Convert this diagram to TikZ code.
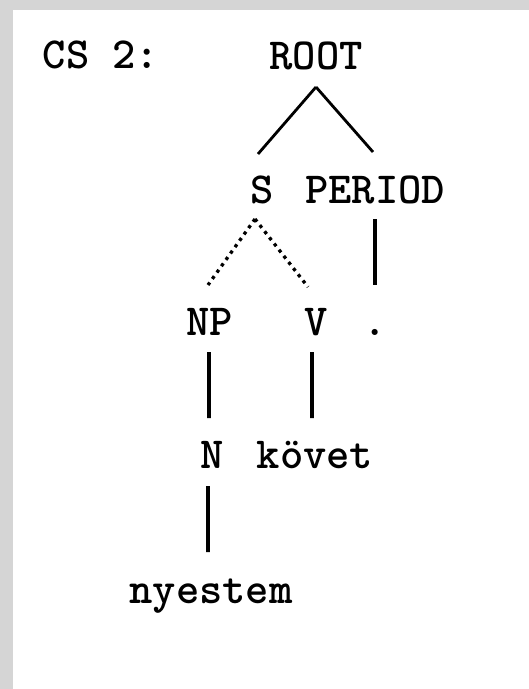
\documentclass[tikz,border=0pt]{standalone}
\usepackage{fontspec}
\begin{document}
\begin{tikzpicture}[x=1bp,y=-1bp,
  lbl/.style={anchor=base,inner sep=0pt,outer sep=0pt,font=\ttfamily\bfseries\fontsize{44.4bp}{50bp}\selectfont},
  solidedge/.style={line width=2.8bp},
  vertedge/.style={line width=3.6bp},
  dotedge/.style={line width=3.3bp,dash pattern=on 3.3bp off 4.5bp}]
\useasboundingbox (0,0) rectangle (529,689);
\fill[gray!33] (0,0) rectangle (529,689);
\fill[white] (13,10) rectangle (529,689);
% nodes
\node[lbl] (cs) at (101,69) {CS 2:};
\node[lbl] (root) at (316,70) {ROOT};
\node[lbl] (s) at (262,203) {S};
\node[lbl] (period) at (375,203) {PERIOD};
\node[lbl] (np) at (209.5,335) {NP};
\node[lbl] (v) at (316,335) {V};
\node[lbl] (dot) at (375,335) {.};
\node[lbl] (n) at (212,468) {N};
\node[lbl] (kovet) at (315,468) {követ};
\node[lbl] (nyestem) at (211,603) {nyestem};
% connectors
\draw[solidedge] ([yshift=-17bp]root.base) -- ([shift={(-4bp,49bp)}]s.base);
\draw[solidedge] ([yshift=-17bp]root.base) -- ([shift={(-2bp,51bp)}]period.base);
\draw[dotedge] ([shift={(-7bp,-16bp)}]s.base) -- ([shift={(-1.5bp,50bp)}]np.base);
\draw[dotedge] ([shift={(-7bp,-16bp)}]s.base) -- ([shift={(-8bp,48bp)}]v.base);
\draw[vertedge] ([yshift=-16bp]period.base) -- ([yshift=50bp]dot.base);
\draw[vertedge] ([shift={(-0.5bp,-17bp)}]np.base) -- ([shift={(-3bp,50bp)}]n.base);
\draw[vertedge] ([shift={(-4bp,-17bp)}]v.base) -- ([shift={(-3bp,50bp)}]kovet.base);
\draw[vertedge] ([shift={(-4bp,-18bp)}]n.base) -- ([shift={(-3bp,51bp)}]nyestem.base);
\end{tikzpicture}
\end{document}
